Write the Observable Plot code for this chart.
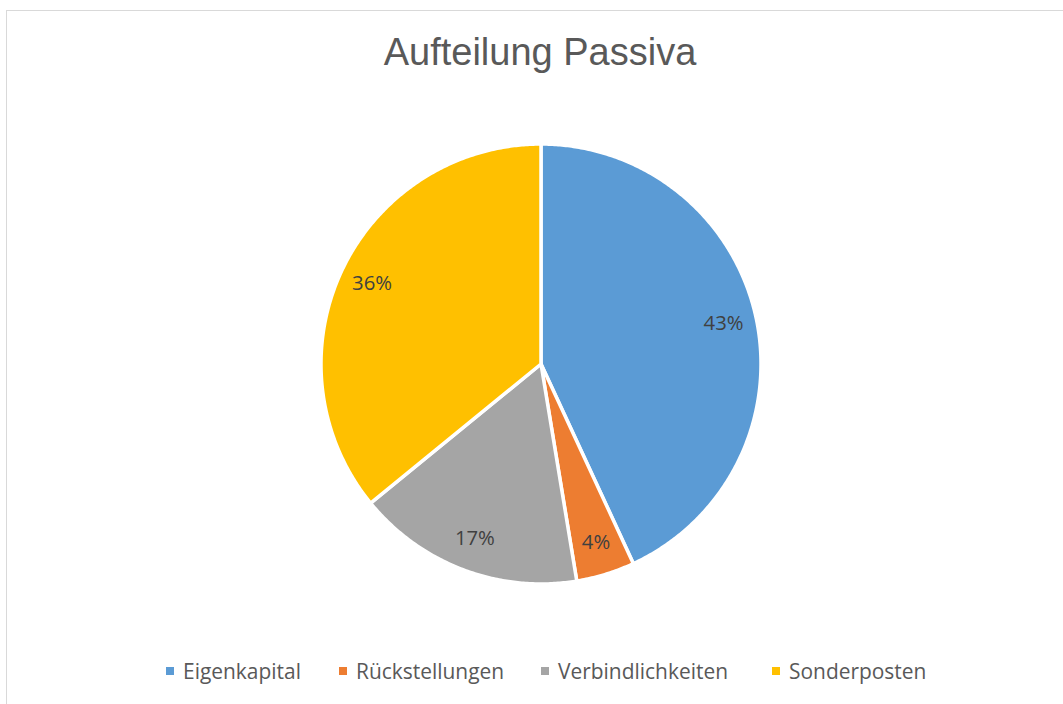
<!DOCTYPE html>
<html>
<head>
<meta charset="utf-8">
<script src="https://cdn.jsdelivr.net/npm/d3@7"></script>
<script src="https://cdn.jsdelivr.net/npm/@observablehq/plot@0.6"></script>
<style>
  html, body { margin: 0; padding: 0; background: #fff; overflow: hidden; }
  #wrap { position: relative; width: 1063px; height: 704px; overflow: hidden; background: #fff; }
  #frame { position: absolute; left: 6px; top: 10px; width: 1200px; height: 900px; border: 1.5px solid #d9d9d9; box-sizing: border-box; }
  #title { position: absolute; left: 0; width: 1080px; top: 33px; text-align: center; font-family: "Liberation Sans", Arial, sans-serif; font-size: 38px; line-height: 38px; color: #595959; white-space: nowrap; }
  #chart { position: absolute; left: 0; top: 0; }
  .leg { position: absolute; display: flex; align-items: center; white-space: nowrap; font-family: "Open Sans", sans-serif; color: #595959; }
  .sw { width: 8px; height: 8px; margin-right: 9px; flex: none; }
</style>
</head>
<body>
<div id="wrap">
  <div id="frame"></div>
  <div id="chart"></div>
  <div id="title">Aufteilung Passiva</div>
</div>
<script>
// ---- data ----
const categories = ["Eigenkapital", "Rückstellungen", "Verbindlichkeiten", "Sonderposten"];
const shares = [43.1, 4.3, 16.7, 35.9];
const labels = ["43%", "4%", "17%", "36%"];
const colors = ["#5B9BD5", "#ED7D31", "#A5A5A5", "#FFC000"];
const titleText = "Aufteilung Passiva";

// ---- geometry from data ----
const arcs = d3.pie().sort(null).value(d => d)(shares);
const rows = [];
arcs.forEach((a, i) => {
  const cat = categories[i];
  rows.push({cat, x: 0, y: 0});
  const n = Math.max(2, Math.ceil((a.endAngle - a.startAngle) / (Math.PI / 360)));
  for (let k = 0; k <= n; k++) {
    const t = a.startAngle + (a.endAngle - a.startAngle) * k / n;
    rows.push({cat, x: Math.sin(t), y: Math.cos(t)});
  }
  rows.push({cat, x: 0, y: 0});
});
const labelR = 0.85;
const labelRows = arcs.map((a, i) => {
  const m = (a.startAngle + a.endAngle) / 2;
  return {label: labels[i], x: labelR * Math.sin(m), y: labelR * Math.cos(m)};
});

// font fitting helper
const ctx = document.createElement("canvas").getContext("2d");
function fit(text, family, target) {
  ctx.font = `100px ${family}`;
  return 100 * target / ctx.measureText(text).width;
}
const labelSize = fit("43%", "'Open Sans'", 40);
const legendSize = fit("Eigenkapital", "'Open Sans'", 118);
document.getElementById("title").textContent = titleText;

const cx = 540.5, cy = 363.5, R = 220;
const chart = Plot.plot({
  width: 1063,
  height: 704,
  margin: 0,
  style: {background: "transparent", overflow: "visible"},
  x: {domain: [-1, 1], range: [cx - R, cx + R], axis: null},
  y: {domain: [-1, 1], range: [cy + R, cy - R], axis: null},
  color: {domain: categories, range: colors},
  marks: [
    Plot.line(rows, {x: "x", y: "y", z: "cat", fill: "cat", stroke: "white", strokeWidth: 3.5, strokeLinejoin: "round", curve: "linear"}),
    Plot.text(labelRows, {x: "x", y: "y", text: "label", fill: "#404040", fontSize: labelSize, fontFamily: "'Open Sans', sans-serif"})
  ]
});
document.getElementById("chart").appendChild(chart);

// legend
const legendX = [166, 339, 541, 772];
const wrap = document.getElementById("wrap");
categories.forEach((c, i) => {
  const el = document.createElement("div");
  el.className = "leg";
  el.style.left = legendX[i] + "px";
  el.style.top = "657px";
  el.style.height = "28px";
  el.style.fontSize = legendSize + "px";
  const sw = document.createElement("span");
  sw.className = "sw";
  sw.style.background = colors[i];
  const tx = document.createElement("span");
  tx.textContent = c;
  el.appendChild(sw);
  el.appendChild(tx);
  wrap.appendChild(el);
});
</script>
</body>
</html>
